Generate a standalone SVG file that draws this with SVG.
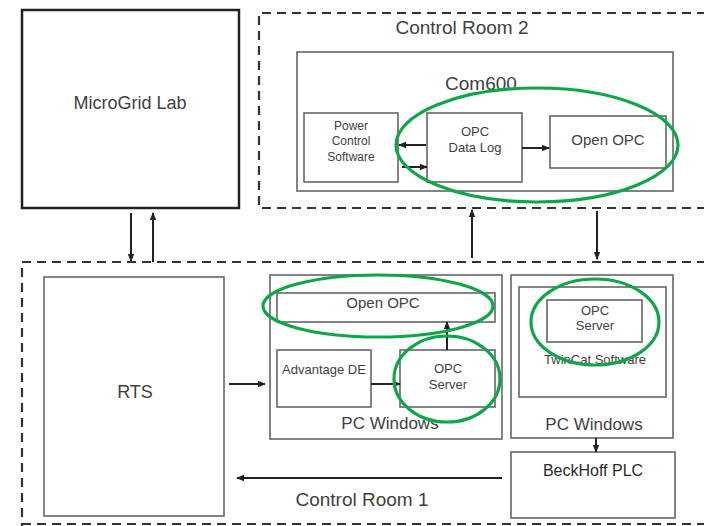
<svg xmlns="http://www.w3.org/2000/svg" width="704" height="526" viewBox="0 0 704 526">
<defs>
<marker id="ah" markerWidth="8" markerHeight="8" refX="7" refY="4" orient="auto" markerUnits="userSpaceOnUse">
<path d="M0,0.8 L8,4 L0,7.2 Z" fill="#222"/>
</marker>
<style>
.t{font-family:"Liberation Sans",Arial,sans-serif;fill:#3f3f3f;text-anchor:middle}
.box{fill:#fff;stroke:#666;stroke-width:1.6}
.dash{fill:none;stroke:#333;stroke-width:2.2;stroke-dasharray:9 6}
.c{stroke:#222;stroke-width:2;fill:none;marker-end:url(#ah)}
.g{fill:none;stroke:#0fa64a;stroke-width:3.2}
</style>
</defs>
<rect width="704" height="526" fill="#fff"/>

<g id="control-room-2">
<path class="dash" d="M706,13 H259 V208 H706"/>
<text class="t" x="462" y="34" font-size="19">Control Room 2</text>
</g>
<g id="control-room-1">
<path class="dash" d="M706,262 H22 V526"/>
<path class="dash" d="M22,524 H706"/>
<text class="t" x="362" y="506" font-size="19">Control Room 1</text>
</g>

<g id="microgrid-lab">
<rect x="22" y="10" width="217" height="198" fill="#fff" stroke="#222" stroke-width="2.5"/>
<text class="t" x="130" y="109" font-size="18">MicroGrid Lab</text>
</g>

<g id="com600">
<rect class="box" x="297" y="52" width="376" height="139"/>
<text class="t" x="481" y="90" font-size="19">Com600</text>
</g>
<g id="power-control-software">
<rect class="box" x="304" y="113" width="94" height="69"/>
<text class="t" x="351" y="130" font-size="12">Power</text>
<text class="t" x="351" y="145" font-size="12">Control</text>
<text class="t" x="351" y="161" font-size="12">Software</text>
</g>
<g id="opc-data-log">
<rect class="box" x="427" y="113" width="95" height="69"/>
<text class="t" x="475" y="136" font-size="13">OPC</text>
<text class="t" x="475" y="152" font-size="13">Data Log</text>
</g>
<g id="open-opc-1">
<rect class="box" x="550" y="116" width="116" height="52"/>
<text class="t" x="608" y="145" font-size="15">Open OPC</text>
</g>

<g id="rts">
<rect class="box" x="44" y="277" width="180" height="239"/>
<text class="t" x="135" y="398" font-size="18">RTS</text>
</g>

<g id="pc-windows-1">
<rect class="box" x="270" y="275" width="232" height="164"/>
<text class="t" x="390" y="429" font-size="17">PC Windows</text>
</g>
<g id="open-opc-2">
<rect class="box" x="277" y="293" width="218" height="29"/>
<text class="t" x="383" y="308" font-size="15">Open OPC</text>
</g>
<g id="advantage-de">
<rect class="box" x="277" y="350" width="94" height="57"/>
<text class="t" x="324" y="374" font-size="13">Advantage DE</text>
</g>
<g id="opc-server-1">
<rect class="box" x="400" y="350" width="95" height="57"/>
<text class="t" x="448" y="373" font-size="13">OPC</text>
<text class="t" x="448" y="389" font-size="13">Server</text>
</g>

<g id="pc-windows-2">
<rect class="box" x="511" y="275" width="162" height="163"/>
<text class="t" x="594" y="430" font-size="17">PC Windows</text>
</g>
<g id="twincat-software">
<rect class="box" x="519" y="287" width="147" height="110"/>
<text class="t" x="595" y="364" font-size="13">TwinCat Software</text>
</g>
<g id="opc-server-2">
<rect class="box" x="547" y="300" width="95" height="42"/>
<text class="t" x="595" y="315" font-size="13">OPC</text>
<text class="t" x="595" y="330" font-size="13">Server</text>
</g>
<g id="beckhoff-plc">
<rect class="box" x="511" y="452" width="164" height="66"/>
<text class="t" x="593" y="476" font-size="16" style="fill:#2a2a2a">BeckHoff PLC</text>
</g>

<g id="connectors">
<line class="c" x1="131" y1="213" x2="131" y2="261"/>
<line class="c" x1="153" y1="262" x2="153" y2="213"/>
<line class="c" x1="472" y1="258" x2="472" y2="210"/>
<line class="c" x1="597" y1="211" x2="597" y2="259"/>
<line class="c" x1="426" y1="145" x2="399" y2="145"/>
<line class="c" x1="402" y1="167" x2="427" y2="167"/>
<line class="c" x1="522" y1="148" x2="549" y2="148"/>
<line class="c" x1="229" y1="384" x2="265" y2="384"/>
<line class="c" x1="371" y1="384" x2="400" y2="384"/>
<line class="c" x1="447" y1="350" x2="447" y2="322"/>
<line class="c" x1="596" y1="438" x2="596" y2="452"/>
<line class="c" x1="502" y1="478" x2="237" y2="478"/>
</g>

<g id="highlights">
<ellipse class="g" cx="537" cy="145" rx="141" ry="57"/>
<ellipse class="g" cx="378" cy="306" rx="115" ry="31"/>
<ellipse class="g" cx="447" cy="379" rx="53" ry="43"/>
<ellipse class="g" cx="595" cy="322" rx="64" ry="43"/>
</g>
</svg>
